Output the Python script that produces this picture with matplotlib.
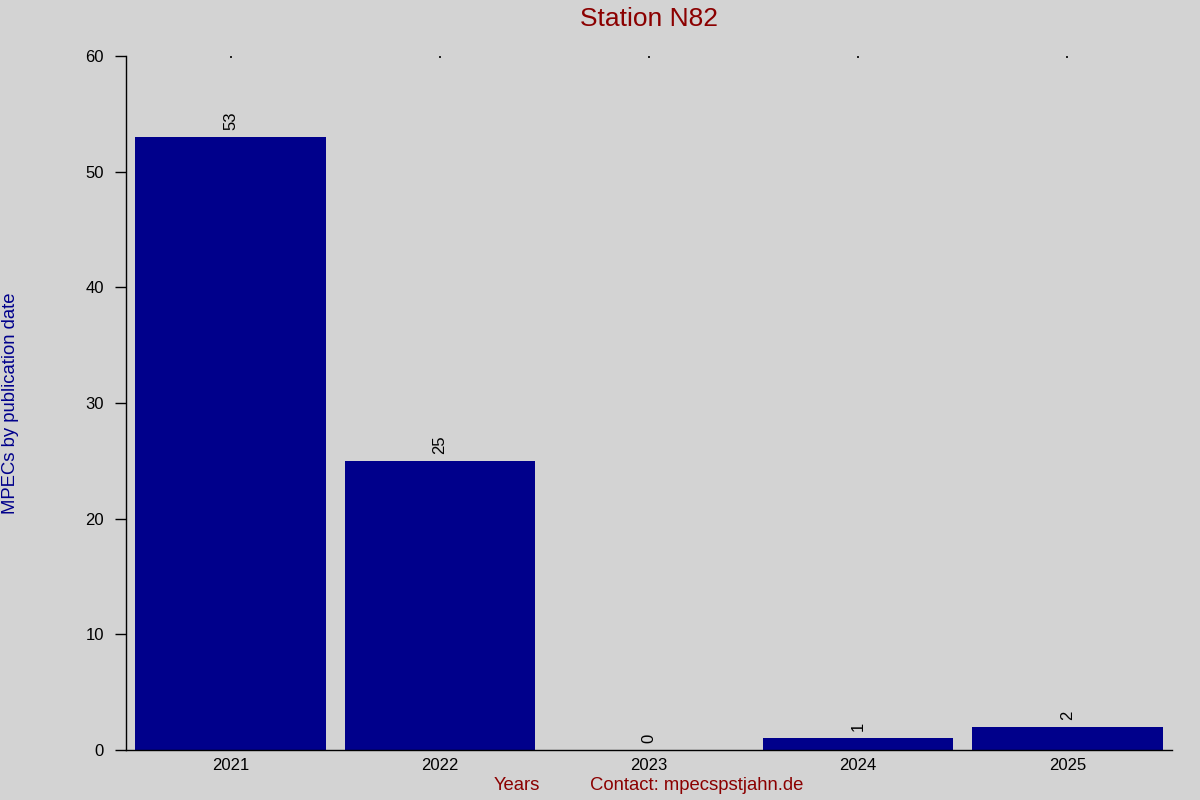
import matplotlib
matplotlib.use("Agg")
import matplotlib.pyplot as plt

years = ["2021", "2022", "2023", "2024", "2025"]
counts = [53, 25, 0, 1, 2]
yticks = [0, 10, 20, 30, 40, 50, 60]

plt.rcParams['font.family'] = ['Liberation Sans', 'DejaVu Sans']
bg = '#D3D3D3'
fig = plt.figure(figsize=(12, 8), dpi=100, facecolor=bg)
ax = fig.add_axes([126/1200, 1-750/800, (1172-126)/1200, (750-56)/800])
ax.set_facecolor(bg)

x = list(range(len(years)))
ax.bar(x, counts, width=0.91, color='#00008B')
for xi, v in zip(x, counts):
    ax.text(xi, v + 0.6, str(v), rotation=90, ha='center', va='bottom', fontsize=12, color='black')

ax.set_xlim(-0.5, len(years) - 0.5)
ax.set_ylim(0, 60)
ax.set_yticks(yticks)
ax.set_xticks(x)
ax.set_xticklabels(years, fontsize=12)
ax.tick_params(axis='y', labelsize=12, length=8, width=1, direction='out', pad=8)
ax.tick_params(axis='x', bottom=False, top=True, direction='in', length=1.2, width=1.2, color='black', pad=6)

for s in ['top', 'right']:
    ax.spines[s].set_visible(False)
ax.spines['left'].set_linewidth(1)
ax.spines['bottom'].set_linewidth(1)

fig.text(649/1200, 1-19/800, "Station N82", ha='center', va='center', fontsize=19, color='#8B0000')
fig.text(11/1200, 1-403/800, "MPECs by publication date", rotation=90, ha='center', va='center', fontsize=13.3, color='#00008B')
fig.text(517/1200, 1-786/800, "Years", ha='center', va='center', fontsize=13.3, color='#8B0000')
fig.text(697/1200, 1-786/800, "Contact: mpecspstjahn.de", ha='center', va='center', fontsize=13.3, color='#8B0000')

fig.savefig("out.png", dpi=100, facecolor=bg)
